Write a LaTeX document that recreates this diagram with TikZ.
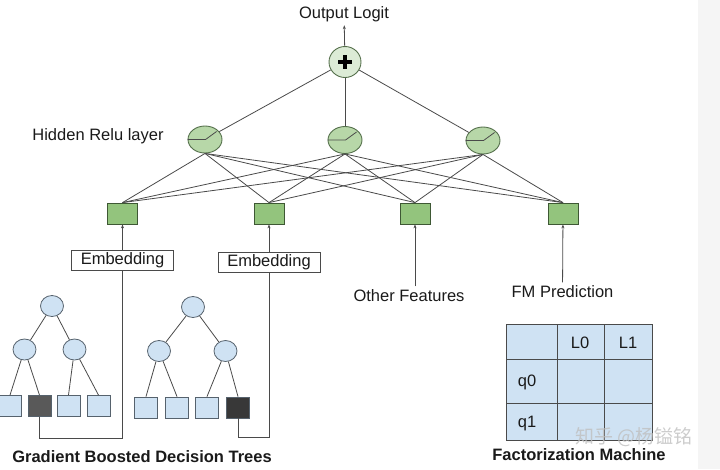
\documentclass[tikz,border=0pt]{standalone}
\usepackage{fontspec}
\setmainfont{Liberation Sans}
\newfontfamily\cjk{Noto Sans CJK SC}
\usetikzlibrary{shapes.geometric,arrows.meta}
\definecolor{lineGray}{HTML}{4A4A4A}
\definecolor{hidFill}{HTML}{B7D7A8}
\definecolor{hidDraw}{HTML}{55704C}
\definecolor{plusFill}{HTML}{DCEBD6}
\definecolor{inFill}{HTML}{93C47D}
\definecolor{inDraw}{HTML}{3E5834}
\definecolor{treeFill}{HTML}{CFE2F3}
\definecolor{treeDraw}{HTML}{56626D}
\definecolor{txt}{HTML}{1A1A1A}
\begin{document}
\begin{tikzpicture}[x=1pt,y=-1pt,
    font=\fontsize{16.5}{18}\selectfont, text=txt,
    link/.style={draw=lineGray, line width=0.8pt},
    arr/.style={link, -{Stealth[length=4pt,width=3pt]}},
    hidNode/.style={ellipse, draw=hidDraw, line width=0.9pt, fill=hidFill, minimum width=34pt, minimum height=27pt, inner sep=0pt},
    plusNode/.style={hidNode, fill=plusFill, minimum width=32pt, minimum height=31pt},
    inBox/.style={rectangle, draw=inDraw, line width=0.8pt, fill=inFill, minimum width=30pt, minimum height=21pt, inner sep=0pt},
    embBox/.style={rectangle, draw=lineGray, line width=0.8pt, fill=white, minimum width=102pt, minimum height=20pt, inner sep=0pt},
    treeNode/.style={ellipse, draw=treeDraw, line width=0.8pt, fill=treeFill, minimum width=23pt, minimum height=21pt, inner sep=0pt},
    leafBox/.style={rectangle, draw=treeDraw, line width=0.8pt, fill=treeFill, minimum width=23pt, minimum height=21pt, inner sep=0pt},
    darkLeaf/.style={leafBox, fill=#1},
    title/.style={font=\fontsize{16.5}{18}\selectfont\bfseries}]
\useasboundingbox (0,0) rectangle (720,469);
\fill[black!4] (698,0) rectangle (720,469);

\node (logit) at (344,14) {Output Logit};
\node[plusNode] (plus) at (345,62) {};
\draw[line width=4pt, black] (plus.center) ++(-7,0) -- ++(14,0);
\draw[line width=4pt, black] (plus.center) ++(0,-7) -- ++(0,14);
\draw[arr] (plus) -- (logit);

\node (hidLabel) at (98,136) {Hidden Relu layer};
\node[hidNode] (hid1) at (205,139.5) {};
\node[hidNode] (hid2) at (345,140) {};
\node[hidNode] (hid3) at (483,140.5) {};
\foreach \h in {hid1,hid2,hid3}{
  \draw[link] (plus) -- (\h);
  \draw[link] (\h.west) -- ++(18,0) -- ++(11,-8);
}

\node[inBox] (in1) at (122.5,213.5) {};
\node[inBox] (in2) at (269,213.5) {};
\node[inBox] (in3) at (415,213.5) {};
\node[inBox] (in4) at (563,213.5) {};
\foreach \h in {hid1,hid2,hid3}
  \foreach \i in {in1,in2,in3,in4}
    \draw[link] (\h.south) -- (\i.north);

\node[embBox] (emb1) at (122.5,260.5) {Embedding};
\node[embBox] (emb2) at (269,262) {Embedding};
\draw[arr] (emb1) -- (in1);
\draw[arr] (emb2) -- (in2);

\node (other) at (409,296) {Other Features};
\node (fmPred) at (562.5,292) {FM Prediction};
\draw[arr] (other.north -| in3.south) -- (in3);
\draw[arr] (fmPred) -- (in4);

\node[treeNode] (aRoot) at (52,306) {};
\node[treeNode] (aL) at (24.5,349.5) {};
\node[treeNode] (aR) at (74.5,349.5) {};
\node[leafBox] (aLeaf1) at (10,406) {};
\node[darkLeaf=black!65] (aLeaf2) at (39.5,406) {};
\node[leafBox] (aLeaf3) at (68.5,406) {};
\node[leafBox] (aLeaf4) at (98.5,406) {};
\draw[link] (aRoot) -- (aL) (aRoot) -- (aR);
\draw[link] (aL) -- (aLeaf1.north) (aL) -- (aLeaf2.north);
\draw[link] (aR) -- (aLeaf3.north) (aR) -- (aLeaf4.north);

\node[treeNode] (bRoot) at (193,307) {};
\node[treeNode] (bL) at (159,351) {};
\node[treeNode] (bR) at (225.5,351) {};
\node[leafBox] (bLeaf1) at (146,407.5) {};
\node[leafBox] (bLeaf2) at (177,407.5) {};
\node[leafBox] (bLeaf3) at (207,407.5) {};
\node[darkLeaf=black!78] (bLeaf4) at (238,407.5) {};
\draw[link] (bRoot) -- (bL) (bRoot) -- (bR);
\draw[link] (bL) -- (bLeaf1.north) (bL) -- (bLeaf2.north);
\draw[link] (bR) -- (bLeaf3.north) (bR) -- (bLeaf4.north);

\draw[link] (aLeaf2.south) -- ++(0,21) -| (emb1.south);
\draw[link] (bLeaf4.south) -- ++(0,19) -| (emb2.south);

\node[title] (gbdt) at (142,457) {Gradient Boosted Decision Trees};

\fill[treeFill] (506,324) rectangle (652,440);
\draw[lineGray, line width=0.9pt] (506,324) rectangle (652,440)
  (557,324) -- (557,440) (604,324) -- (604,440)
  (506,359) -- (652,359) (506,403) -- (652,403);
\node (colL0) at (580,343) {L0};
\node (colL1) at (628,343) {L1};
\node (rowQ0) at (527,382) {q0};
\node (rowQ1) at (527,424) {q1};
\node[title] (fm) at (579,455) {Factorization Machine};

\node[text=black!25, opacity=0.8, font=\cjk\fontsize{19}{21}\selectfont] (mark) at (634,437) {知乎 @杨镒铭};
\end{tikzpicture}
\end{document}
